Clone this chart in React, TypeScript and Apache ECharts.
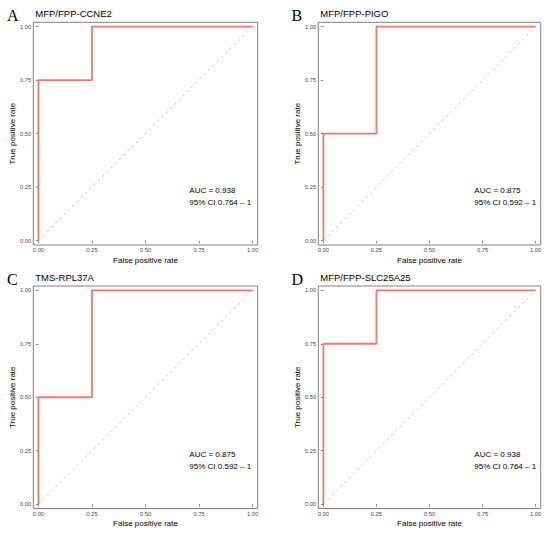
import React, { useEffect, useRef } from "react";
import * as echarts from "echarts";

const panelLetters = ["A", "B", "C", "D"];
const panelTitles = ["MFP/FPP-CCNE2", "MFP/FPP-PIGO", "TMS-RPL37A", "MFP/FPP-SLC25A25"];
const rocFpr = [0, 0, 0.25, 0.25, 1];
const rocTprA = [0, 0.75, 0.75, 1, 1];
const rocTprB = [0, 0.5, 0.5, 1, 1];
const rocTprC = [0, 0.5, 0.5, 1, 1];
const rocTprD = [0, 0.75, 0.75, 1, 1];
const aucLabels = ["AUC = 0.938", "AUC = 0.875", "AUC = 0.875", "AUC = 0.938"];
const ciLabels = ["95% CI 0.764 \u2013 1", "95% CI 0.592 \u2013 1", "95% CI 0.592 \u2013 1", "95% CI 0.764 \u2013 1"];
const tickValues = [0, 0.25, 0.5, 0.75, 1];

const grids = [
  { left: 33.3, top: 22.3, width: 224.4, height: 222.7 },
  { left: 318.3, top: 22.3, width: 222.4, height: 222.7 },
  { left: 33.3, top: 286, width: 224.4, height: 222.5 },
  { left: 318.3, top: 286, width: 222.4, height: 222.5 },
];

const SANS = "Liberation Sans, Arial, sans-serif";
const SERIF = "Liberation Serif, Times New Roman, serif";

export default function App() {
  const ref = useRef<HTMLDivElement>(null);
  useEffect(() => {
    document.body.style.margin = "0";
    const chart = echarts.init(ref.current!, null, { renderer: "svg" });
    const tprs = [rocTprA, rocTprB, rocTprC, rocTprD];
    const xExp = 0.024;
    const yExp = 0.02;
    const xAxis: any[] = [];
    const yAxis: any[] = [];
    const series: any[] = [];
    const graphic: any[] = [];
    grids.forEach((g, i) => {
      xAxis.push({
        type: "value",
        gridIndex: i,
        min: -xExp,
        max: 1 + xExp,
        name: "False positive rate",
        nameLocation: "middle",
        nameGap: 11,
        nameTextStyle: { fontFamily: SANS, fontSize: 8, color: "#000", verticalAlign: "top" },
        axisLine: { show: false },
        axisTick: { show: true, length: 2.5, customValues: tickValues, lineStyle: { color: "#333", width: 0.6 } },
        axisLabel: {
          show: true,
          customValues: tickValues,
          margin: 2,
          fontFamily: SANS,
          fontSize: 5.8,
          color: "#4d4d4d",
          formatter: (v: number) => v.toFixed(2),
        },
        splitLine: { show: false },
      });
      yAxis.push({
        type: "value",
        gridIndex: i,
        min: -yExp,
        max: 1 + yExp,
        name: "True positive rate",
        nameLocation: "middle",
        nameGap: 17,
        nameTextStyle: { fontFamily: SANS, fontSize: 8, color: "#000" },
        axisLine: { show: false },
        axisTick: { show: true, length: 2.5, customValues: tickValues, lineStyle: { color: "#333", width: 0.6 } },
        axisLabel: {
          show: true,
          customValues: tickValues,
          margin: 2,
          fontFamily: SANS,
          fontSize: 5.8,
          color: "#4d4d4d",
          formatter: (v: number) => v.toFixed(2),
        },
        splitLine: { show: false },
      });
      series.push({
        type: "line",
        xAxisIndex: i,
        yAxisIndex: i,
        data: [[0, 0], [1, 1]],
        showSymbol: false,
        symbol: "none",
        lineStyle: { color: "#bdbdbd", width: 0.8, type: [3, 3] },
        silent: true,
        z: 1,
      });
      series.push({
        type: "line",
        xAxisIndex: i,
        yAxisIndex: i,
        data: rocFpr.map((x, k) => [x, tprs[i][k]]),
        showSymbol: false,
        symbol: "none",
        lineStyle: { color: "#F8766D", width: 1.8 },
        silent: true,
        z: 2,
      });
      const letterX = i % 2 === 0 ? 7 : 291.5;
      graphic.push({
        type: "text",
        left: letterX,
        top: g.top - 15,
        style: { text: panelLetters[i], fontFamily: SERIF, fontSize: 16, fill: "#000" },
      });
      graphic.push({
        type: "text",
        left: g.left + 2,
        top: g.top - 13.5,
        style: { text: panelTitles[i], fontFamily: SANS, fontSize: 9.5, fill: "#000" },
      });
      graphic.push({
        type: "text",
        left: g.left + 156,
        top: g.top + 164.5,
        style: { text: aucLabels[i], fontFamily: SANS, fontSize: 8, fill: "#000" },
      });
      graphic.push({
        type: "text",
        left: g.left + 156,
        top: g.top + 176.5,
        style: { text: ciLabels[i], fontFamily: SANS, fontSize: 8, fill: "#000" },
      });
    });
    chart.setOption({
      animation: false,
      backgroundColor: "#fff",
      grid: grids.map((g) => ({ ...g, show: true, borderColor: "#808080", borderWidth: 1, backgroundColor: "transparent", containLabel: false })),
      xAxis,
      yAxis,
      series,
      graphic,
    });
    return () => chart.dispose();
  }, []);
  return <div ref={ref} style={{ width: 550, height: 535 }} />;
}
